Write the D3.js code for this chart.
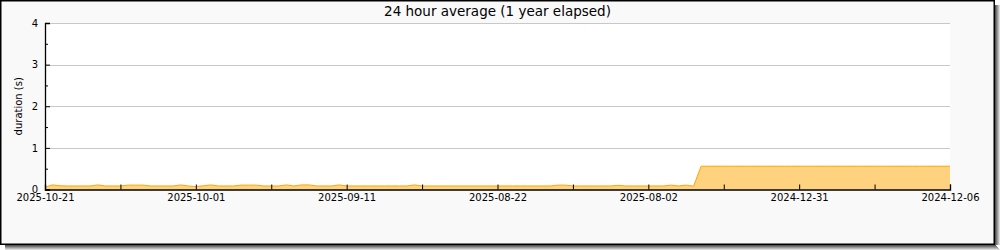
<!DOCTYPE html>
<html>
<head>
<meta charset="utf-8">
<script src="https://cdn.jsdelivr.net/npm/d3@7"></script>
<style>
  body { margin: 0; background: #ffffff; }
  text { font-family: "DejaVu Sans", sans-serif; fill: #000; }
</style>
</head>
<body>
<div class="chart"></div>
<script>
// x axis: one point per day, newest first
var tickIndex = [0, 20, 40, 60, 80, 100, 120];
var tickLabels = ["2025-10-21", "2025-10-01", "2025-09-11", "2025-08-22", "2025-08-02", "2024-12-31", "2024-12-06"];
var minorIndex = [10, 30, 50, 70, 90, 110];
var yTicks = [0, 1, 2, 3, 4];
var yMinor = [0.5, 1.5, 2.5, 3.5];

// duration (s), 24 hour average
var durations = [
  0.06, 0.11, 0.09, 0.085, 0.085, 0.085, 0.085, 0.11, 0.085, 0.085,
  0.085, 0.105, 0.105, 0.105, 0.085, 0.085, 0.085, 0.085, 0.11, 0.085,
  0.07, 0.09, 0.11, 0.085, 0.085, 0.085, 0.105, 0.105, 0.105, 0.085,
  0.085, 0.085, 0.11, 0.085, 0.11, 0.11, 0.085, 0.085, 0.085, 0.11,
  0.085, 0.085, 0.085, 0.085, 0.085, 0.085, 0.085, 0.085, 0.085, 0.11,
  0.085, 0.085, 0.085, 0.085, 0.085, 0.085, 0.085, 0.085, 0.085, 0.085,
  0.085, 0.085, 0.085, 0.085, 0.085, 0.085, 0.085, 0.085, 0.105, 0.105,
  0.085, 0.085, 0.085, 0.085, 0.085, 0.085, 0.1, 0.085, 0.085, 0.085,
  0.085, 0.085, 0.085, 0.105, 0.085, 0.105, 0.08, 0.56, 0.56, 0.56,
  0.56, 0.56, 0.56, 0.56, 0.56, 0.56, 0.56, 0.56, 0.56, 0.56,
  0.56, 0.56, 0.56, 0.56, 0.56, 0.56, 0.56, 0.56, 0.56, 0.56,
  0.56, 0.56, 0.56, 0.56, 0.56, 0.56, 0.56, 0.56, 0.56, 0.56,
  0.56
];

var svgWidth = 1000;
var svgHeight = 250;
var margin = { top: 23, right: 50, bottom: 60.5, left: 45 };
var width = 950 - margin.left;
var height = 189.5 - margin.top;

var svg = d3.select(".chart")
  .append("svg")
  .attr("width", svgWidth)
  .attr("height", svgHeight);

// drop shadow of the frame
var shades = ["#555", "#777", "#999", "#bbb", "#ddd"];
shades.forEach(function(c, i) {
  svg.append("rect").attr("x", 995 + i).attr("y", 5).attr("width", 1).attr("height", 245 - 5).attr("fill", c);
  svg.append("rect").attr("x", 5).attr("y", 245 + i).attr("width", 996 - 5 + i).attr("height", 1).attr("fill", c);
});

// frame
svg.append("rect")
  .attr("x", 0.75).attr("y", 0.75)
  .attr("width", 993.5).attr("height", 243.5)
  .attr("fill", "#f9f9f9")
  .attr("stroke", "#000")
  .attr("stroke-width", 1.5);

var chart = svg.append("g")
  .attr("transform", "translate(" + margin.left + "," + margin.top + ")");

var xScale = d3.scaleLinear().domain([0, durations.length - 1]).range([0, width]);
var yScale = d3.scaleLinear().domain([0, 4]).range([height, 0]);

// plot background
chart.append("rect")
  .attr("width", width).attr("height", height)
  .attr("fill", "#fff");

// horizontal grid
chart.append("g")
  .selectAll("line")
  .data(yTicks.slice(1))
  .enter()
  .append("line")
  .attr("x1", 0).attr("x2", width)
  .attr("y1", function(d) { return Math.round(yScale(d)) + 0.5; })
  .attr("y2", function(d) { return Math.round(yScale(d)) + 0.5; })
  .attr("stroke", "#c8c8c8")
  .attr("stroke-width", 1);

// area + line
var area = d3.area()
  .x(function(d, i) { return xScale(i); })
  .y0(yScale(0))
  .y1(function(d) { return yScale(d); });

var line = d3.line()
  .x(function(d, i) { return xScale(i); })
  .y(function(d) { return yScale(d); });

chart.append("path")
  .datum(durations)
  .attr("d", area)
  .attr("fill", "#ffd27f");

chart.append("path")
  .datum(durations)
  .attr("d", line)
  .attr("fill", "none")
  .attr("stroke", "#ffa500")
  .attr("stroke-width", 1);

// x axis, ticks point up into the plot
var bottomAxis = d3.axisBottom(xScale)
  .tickValues(tickIndex)
  .tickSize(-5)
  .tickPadding(4)
  .tickFormat(function(d, i) { return tickLabels[i]; });

var xAxis = chart.append("g")
  .attr("transform", "translate(0," + height + ")")
  .call(bottomAxis);

chart.append("g")
  .attr("transform", "translate(0," + height + ")")
  .call(d3.axisBottom(xScale).tickValues(minorIndex).tickSize(-5).tickFormat(""))
  .select(".domain").remove();

// y axis, ticks inside
var leftAxis = d3.axisLeft(yScale)
  .tickValues(yTicks)
  .tickSize(-5)
  .tickPadding(7)
  .tickFormat(d3.format("d"));

var yAxis = chart.append("g").call(leftAxis);

chart.append("g")
  .call(d3.axisLeft(yScale).tickValues(yMinor).tickSize(-3).tickFormat(""))
  .select(".domain").remove();

chart.selectAll(".domain").attr("stroke", "#000").attr("stroke-width", 1.3);
chart.selectAll(".tick line").attr("stroke", "#000");
chart.selectAll(".tick text")
  .attr("font-family", "DejaVu Sans")
  .attr("font-size", "10px")
  .attr("fill", "#000");

// title
svg.append("text")
  .attr("x", margin.left + width / 2)
  .attr("y", 16)
  .attr("text-anchor", "middle")
  .style("font-size", "13.5px")
  .text("24 hour average (1 year elapsed)");

// y label
svg.append("text")
  .attr("transform", "translate(22," + (margin.top + height / 2) + ") rotate(-90)")
  .attr("text-anchor", "middle")
  .style("font-size", "10px")
  .text("duration (s)");
</script>
</body>
</html>
